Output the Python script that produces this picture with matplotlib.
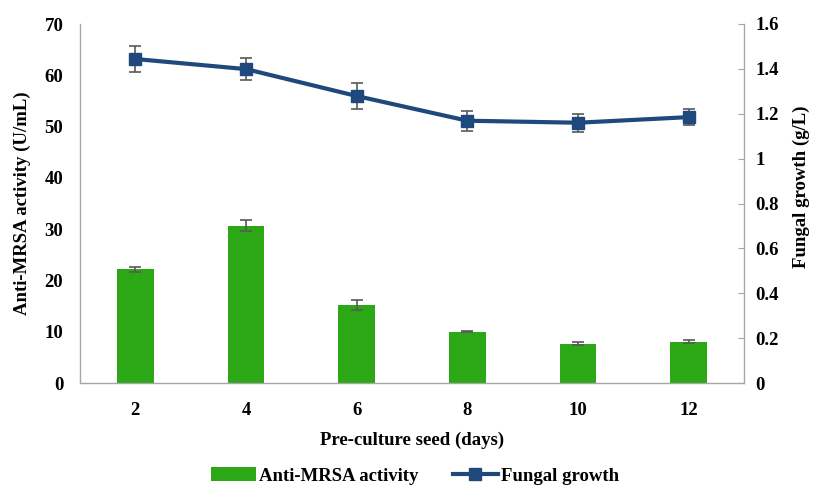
import matplotlib
matplotlib.use("Agg")
import matplotlib.pyplot as plt
from matplotlib.lines import Line2D
from matplotlib.patches import Patch
import numpy as np

plt.rcParams['font.family'] = ['Liberation Serif', 'DejaVu Serif']
plt.rcParams['font.weight'] = 'bold'

days = ["2", "4", "6", "8", "10", "12"]
activity = [22.2, 30.7, 15.2, 10.0, 7.7, 8.05]
activity_err = [0.5, 1.1, 1.0, 0.15, 0.35, 0.3]
growth = [1.444, 1.399, 1.279, 1.169, 1.160, 1.185]
growth_err = [0.056, 0.05, 0.056, 0.045, 0.04, 0.037]

bar_color = "#2ca817"
line_color = "#1f497d"
err_color = "#595959"
spine_color = "#a6a6a6"

fig = plt.figure(figsize=(8.14, 4.87), dpi=100)
ax = fig.add_axes([80 / 814, 1 - 383 / 487, (744 - 80) / 814, (383 - 24) / 487])
x = np.arange(len(days))

ax.bar(x, activity, width=0.33, color=bar_color, zorder=2)
ax.errorbar(x, activity, yerr=activity_err, fmt='none', ecolor=err_color,
            elinewidth=1.2, capsize=4, capthick=1.2, zorder=3)
ax.set_xlim(-0.5, len(days) - 0.5)
ax.set_ylim(0, 70)
ax.set_yticks(range(0, 71, 10))
ax.set_xticks(x)
ax.set_xticklabels(days)
ax.tick_params(axis='both', length=0, labelsize=13.5)
ax.tick_params(axis='x', pad=14)
ax.tick_params(axis='y', pad=12)
ax.set_xlabel("Pre-culture seed (days)", fontsize=13.5, fontweight='bold', labelpad=9)
ax.set_ylabel("Anti-MRSA activity (U/mL)", fontsize=13.5, fontweight='bold', labelpad=10)
for s in ['top', 'right']:
    ax.spines[s].set_visible(False)
for s in ['left', 'bottom']:
    ax.spines[s].set_color(spine_color)
    ax.spines[s].set_linewidth(1.0)

ax2 = ax.twinx()
ax2.errorbar(x, growth, yerr=growth_err, fmt='none', ecolor=err_color,
             elinewidth=1.2, capsize=4, capthick=1.2, zorder=3)
ax2.plot(x, growth, color=line_color, linewidth=3, marker='s', markersize=9,
         zorder=4)
ax2.set_ylim(0, 1.6)
ax2.set_yticks(np.round(np.arange(0, 1.61, 0.2), 1))
ax2.set_yticklabels(["0", "0.2", "0.4", "0.6", "0.8", "1", "1.2", "1.4", "1.6"])
ax2.tick_params(axis='y', direction='in', length=4, color=spine_color,
                labelsize=13.5, pad=8)
ax2.set_ylabel("Fungal growth (g/L)", fontsize=13.5, fontweight='bold',
               rotation=90, va='center', ha='center')
ax2.yaxis.set_label_coords(1.087, 0.546)
for s in ['top', 'left', 'bottom']:
    ax2.spines[s].set_visible(False)
ax2.spines['right'].set_color(spine_color)
ax2.spines['right'].set_linewidth(1.0)

handles = [Patch(facecolor=bar_color, edgecolor='none'),
           Line2D([0], [0], color=line_color, linewidth=3, marker='s', markersize=8)]
fig.legend(handles, ["Anti-MRSA activity", "Fungal growth"], loc='center',
           bbox_to_anchor=(415 / 814, 1 - 476 / 487), ncol=2, frameon=False,
           prop={'size': 13.5, 'weight': 'bold'}, handlelength=2.4,
           handletextpad=0.2, columnspacing=1.8)

fig.savefig("out.png", dpi=100)
